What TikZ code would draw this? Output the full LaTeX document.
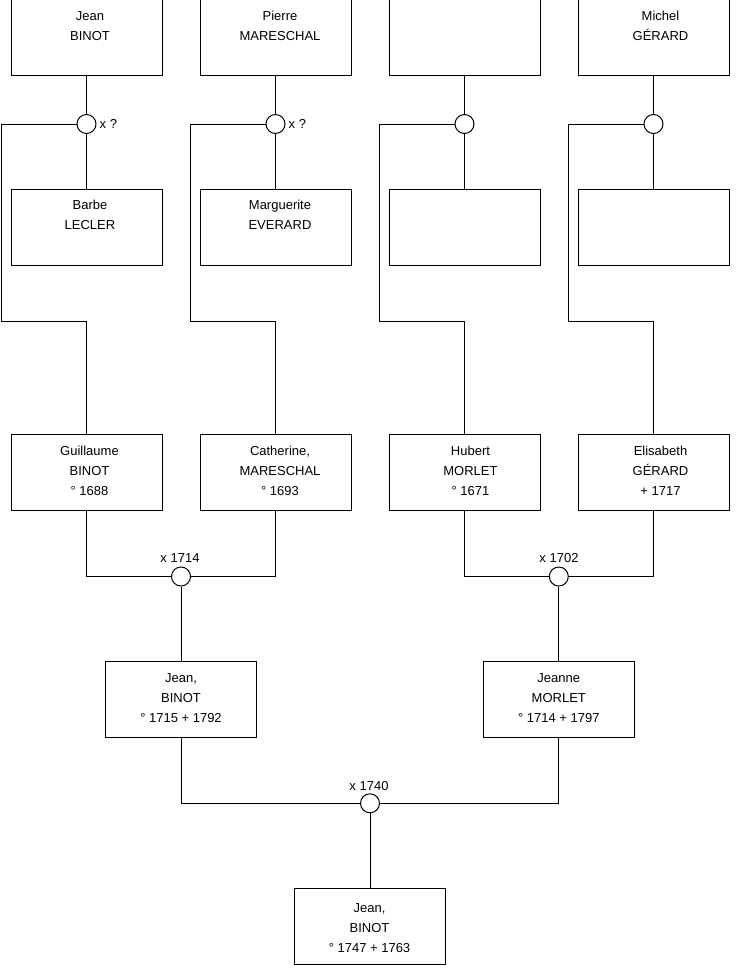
\documentclass[tikz,border=0pt]{standalone}
\usepackage{fontspec}
\setmainfont{Liberation Sans}
\tikzset{
  pbox/.style={draw=black, line width=1pt, rectangle, minimum width=151pt, minimum height=76pt, inner sep=0pt, fill=white},
  ptext/.style={inner sep=0pt, anchor=base},
  marr/.style={draw=black, line width=1pt, circle, minimum size=19pt, inner sep=0pt, fill=white},
  lbl/.style={inner sep=0pt, font=\fontsize{13}{16}\selectfont},
  link/.style={draw=black, line width=1pt},
}
% name, cx, cy, dx, dy, text
\newcommand\person[6]{%
  \node[pbox] (#1) at (#2,#3) {};
  \node[ptext] (#1t) at (#2+#4,#3-17.3+#5) {\parbox[t]{151pt}{\centering\fontsize{13}{20}\selectfont #6}};
}
\newcommand\emptyperson[3]{%
  \node[pbox] (#1) at (#2,#3) {};
}
\begin{document}
\begin{tikzpicture}[x=1pt,y=-1pt]
\useasboundingbox (0,0) rectangle (740,975);

% row 1
\person{p1}{86.5}{37.5}{3.5}{0}{Jean\\BINOT}
\person{p2}{275.5}{37.5}{4.5}{0}{Pierre\\MARESCHAL}
\emptyperson{p3}{464.5}{37.5}
\person{p4}{653.5}{37.5}{7}{0}{Michel\\GÉRARD}

% marriage circles row 1
\node[marr] (m1) at (86.5,124) {};
\node[marr] (m2) at (275.5,124) {};
\node[marr] (m3) at (464.5,124) {};
\node[marr] (m4) at (653.5,124) {};
\node[lbl, anchor=base west] (l1) at (99.5,128.6) {x ?};
\node[lbl, anchor=base west] (l2) at (288.5,128.6) {x ?};

% row 2
\person{w1}{86.5}{227}{3.5}{0}{Barbe\\LECLER}
\person{w2}{275.5}{227}{4.5}{0}{Marguerite\\EVERARD}
\emptyperson{w3}{464.5}{227}
\emptyperson{w4}{653.5}{227}

% row 3
\person{c1}{86.5}{472.5}{3}{0}{Guillaume\\BINOT\\° 1688}
\person{c2}{275.5}{472.5}{4.5}{0}{Catherine,\\MARESCHAL\\° 1693}
\person{c3}{464.5}{472.5}{6}{0}{Hubert\\MORLET\\° 1671}
\person{c4}{653.5}{472.5}{7}{0}{Elisabeth\\GÉRARD\\+ 1717}

% side coordinates
\coordinate (a1) at (1.5,124);   \coordinate (b1) at (1.5,321.5);
\coordinate (a2) at (190.5,124); \coordinate (b2) at (190.5,321.5);
\coordinate (a3) at (379.5,124); \coordinate (b3) at (379.5,321.5);
\coordinate (a4) at (568.5,124); \coordinate (b4) at (568.5,321.5);

% row 1 connectors
\foreach \i in {1,2,3,4}{
  \draw[link] (p\i.south) -- (m\i.north);
  \draw[link] (m\i.south) -- (w\i.north);
  \draw[link] (m\i.west) -- (a\i) -- (b\i) -| (c\i.north);
}

% row 3 marriages
\node[marr] (m5) at (181,576.5) {};
\node[marr] (m6) at (558.8,576.5) {};
\node[lbl, anchor=base] (l5) at (180,562.6) {x 1714};
\node[lbl, anchor=base] (l6) at (559,562.6) {x 1702};
\draw[link] (c1.south) |- (m5.west);
\draw[link] (c2.south) |- (m5.east);
\draw[link] (c3.south) |- (m6.west);
\draw[link] (c4.south) |- (m6.east);

% row 4
\person{j1}{181}{699.7}{0}{0}{Jean,\\BINOT\\° 1715 + 1792}
\person{j2}{558.8}{699.7}{0}{0}{Jeanne\\MORLET\\° 1714 + 1797}
\draw[link] (m5.south) -- (j1.north);
\draw[link] (m6.south) -- (j2.north);

% final marriage
\node[marr] (m7) at (370,803.3) {};
\node[lbl, anchor=base] (l7) at (369,790.6) {x 1740};
\draw[link] (j1.south) |- (m7.west);
\draw[link] (j2.south) |- (m7.east);

% row 5
\person{k1}{370}{926.3}{-0.5}{3}{Jean,\\BINOT\\° 1747 + 1763}
\draw[link] (m7.south) -- (k1.north);
\end{tikzpicture}
\end{document}
